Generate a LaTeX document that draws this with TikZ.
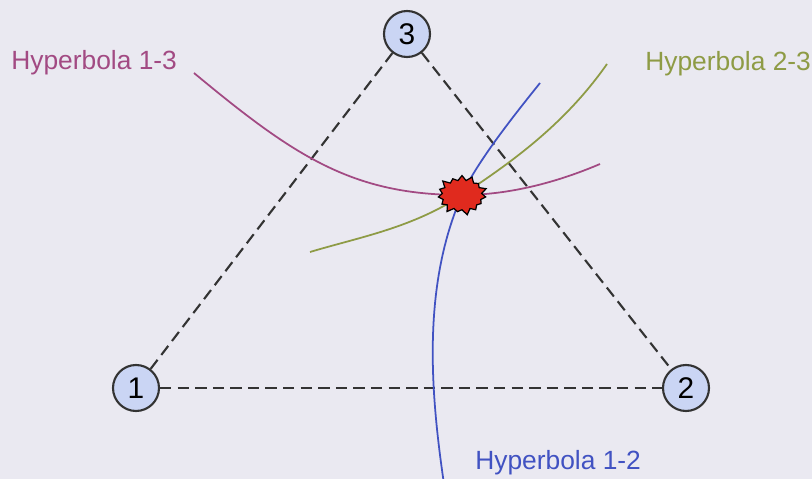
\documentclass[tikz,border=0pt]{standalone}
\usepackage{fontspec}
\setmainfont{Liberation Sans}
\usepackage{xcolor}
\usepackage{tikz}
\usetikzlibrary{shapes.symbols,arrows.meta,positioning,calc}
\definecolor{paperGray}{HTML}{EAE9F1}
\definecolor{stationBlue}{HTML}{CAD5F4}
\definecolor{darkSlate}{HTML}{333333}
\definecolor{hypMagenta}{HTML}{A24A83}
\definecolor{hypOlive}{HTML}{8E9B45}
\definecolor{hypBlue}{HTML}{4152C2}
\definecolor{hitRed}{HTML}{E02A1E}

\begin{document}
\begin{tikzpicture}[
    station/.style={circle, draw=darkSlate, line width=1.2pt, fill=stationBlue, minimum size=0.92cm, inner sep=0pt, font=\fontsize{17}{20}\selectfont},
    baseline/.style={draw=darkSlate, line width=1.2pt, dash pattern=on 6.5pt off 3.5pt},
    hyp/.style={line width=1pt},
    hyplabel/.style={anchor=west, inner sep=0pt, font=\fontsize{15}{18}\selectfont},
    burst/.style={starburst, starburst points=15, starburst point height=1.3mm, draw=black, line width=0.7pt, fill=hitRed, minimum width=1.05cm, minimum height=0.85cm, inner sep=0pt}
]
\fill[paperGray] (0,0) rectangle (16.24,9.58);
\useasboundingbox (0,0) rectangle (16.24,9.58);

% Nodes
\node[station] (s1) at (2.72,1.82) {1};
\node[station] (s2) at (13.72,1.82) {2};
\node[station] (s3) at (8.14,8.9) {3};
\coordinate (hit) at (9.24,5.68);

% Baselines
\draw[baseline] (s1) -- (s3);
\draw[baseline] (s3) -- (s2);
\draw[baseline] (s1) -- (s2);

% Hyperbolas
\coordinate (h13a) at (3.88,8.12);
\coordinate (h13b) at (12.0,6.3);
\coordinate (h23a) at (6.2,4.54);
\coordinate (h23b) at (12.14,8.3);
\coordinate (h12a) at (10.8,7.92);
\coordinate (h12b) at (8.88,-0.1);
\draw[hyp, hypMagenta] (h13a) .. controls (5.88,6.46) and (7.04,5.68) .. (hit)
    .. controls (10.3,5.68) and (11.3,6.0) .. (h13b);
\draw[hyp, hypOlive] (h23a) .. controls (7.2,4.84) and (8.24,5.02) .. (hit)
    .. controls (10.24,6.34) and (11.3,7.1) .. (h23b);
\draw[hyp, hypBlue] (h12a) .. controls (10.4,7.42) and (9.54,6.36) .. (hit)
    .. controls (8.45,3.88) and (8.6,1.8) .. (h12b);

\node[burst] (src) at (hit) {};

% Labels
\node[hyplabel, text=hypMagenta] (l13) at (0.22,8.32) {Hyperbola 1-3};
\node[hyplabel, text=hypOlive] (l23) at (12.9,8.3) {Hyperbola 2-3};
\node[hyplabel, text=hypBlue] (l12) at (9.5,0.32) {Hyperbola 1-2};

\end{tikzpicture}
\end{document}
